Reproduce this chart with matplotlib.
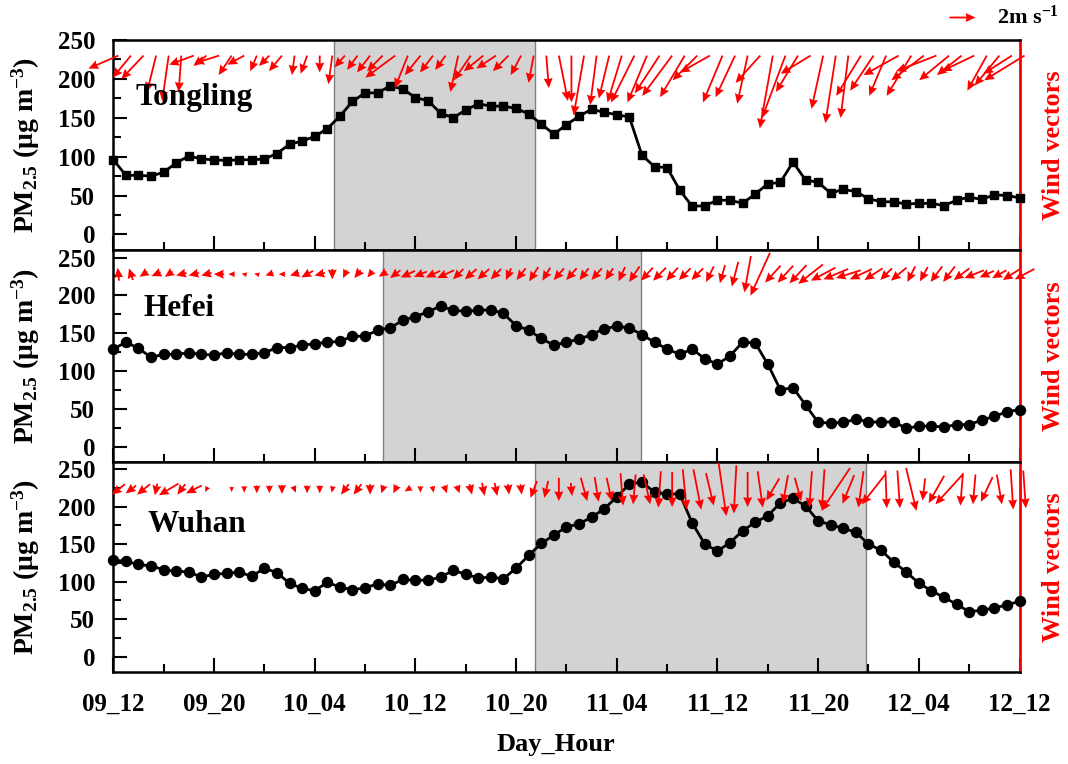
import numpy as np
import matplotlib.pyplot as plt
from matplotlib.ticker import MultipleLocator

plt.rcParams['font.family'] = 'Liberation Serif'
plt.rcParams['font.weight'] = 'bold'
plt.rcParams['axes.labelweight'] = 'bold'
plt.rcParams['mathtext.fontset'] = 'custom'
plt.rcParams['mathtext.rm'] = 'Liberation Serif:bold'
plt.rcParams['mathtext.bf'] = 'Liberation Serif:bold'
plt.rcParams['mathtext.it'] = 'Liberation Serif:italic:bold'

# hourly samples from 09_12 to 12_12
hours = np.arange(73)
xtick_labels = ['09_12', '09_20', '10_04', '10_12', '10_20',
                '11_04', '11_12', '11_20', '12_04', '12_12']
stations = ['Tongling', 'Hefei', 'Wuhan']

# PM2.5 (ug m-3)
pm_tongling = [96, 76, 76, 75, 80, 92, 101, 97, 96, 95, 96, 96, 97, 104, 116, 120, 126, 136,
               152, 171, 182, 182, 191, 187, 176, 172, 156, 150, 160, 168, 165, 165, 162, 155,
               142, 129, 141, 152, 161, 157, 154, 151, 102, 87, 86, 57, 36, 37, 44, 44, 40, 52,
               65, 67, 93, 70, 67, 53, 58, 55, 46, 42, 42, 39, 40, 40, 37, 44, 48, 45, 51, 50, 47]
pm_hefei = [129, 138, 130, 118, 122, 122, 124, 122, 121, 124, 122, 122, 124, 131, 131, 134, 136,
            138, 139, 146, 146, 154, 157, 167, 172, 178, 186, 180, 179, 180, 181, 176, 160, 154,
            143, 134, 138, 142, 148, 156, 159, 157, 148, 138, 129, 122, 129, 116, 109, 120, 138,
            137, 109, 75, 78, 55, 32, 31, 32, 36, 33, 32, 33, 24, 27, 27, 26, 29, 29, 35, 40, 46, 49]
pm_wuhan = [129, 127, 123, 121, 116, 114, 113, 106, 110, 111, 113, 107, 118, 112, 98, 91, 88, 99,
            93, 89, 92, 97, 95, 103, 102, 102, 106, 115, 110, 105, 106, 104, 118, 135, 151, 162,
            173, 177, 186, 197, 213, 230, 233, 219, 217, 217, 178, 150, 141, 152, 168, 179, 188,
            205, 211, 201, 181, 176, 171, 166, 150, 142, 126, 113, 98, 88, 79, 70, 60, 62, 65, 69, 74]

# wind components (m s-1)
u_tongling = [-2.3, -1.4, -1.7, -0.7, -0.5, -0.2, -1.9, -1.0, -1.9, -1.0,
              -1.3, -0.5, -0.8, -1.0, -0.2, -0.5, 0.0, -0.3, -0.8, -0.8,
              -1.0, -1.2, -2.3, -1.0, -1.2, -1.0, -0.8, -0.6, -1.3, -1.5,
              -1.5, -1.2, -0.8, -0.4, 0.2, 0.7, 0.0, -0.8, -0.5, -0.8,
              -1.1, -1.8, -1.5, -1.9, -2.3, -1.9, -1.9, -2.3, -1.5, -1.5,
              -0.8, -1.9, -1.0, -1.8, -1.7, -2.3, -0.9, -0.8, -0.6, -1.9,
              -1.8, -1.3, -2.7, -1.9, -2.5, -3.1, -2.3, -1.9, -2.5, -1.5,
              -1.9, -2.2, -3.1]
v_tongling = [-1.0, -1.7, -1.8, -2.8, -3.5, -2.8, -0.7, -0.8, -0.6, -1.5,
              -0.7, -1.2, -0.8, -1.2, -1.5, -1.4, -1.3, -2.2, -0.9, -1.1,
              -1.3, -1.2, -1.7, -2.5, -1.5, -1.3, -1.1, -2.8, -1.9, -1.2,
              -1.0, -1.2, -1.5, -2.1, -2.5, -3.5, -3.6, -4.6, -3.8, -3.3,
              -3.6, -3.6, -3.6, -2.9, -3.1, -3.2, -1.9, -1.3, -3.6, -3.2,
              -3.7, -2.1, -5.6, -4.8, -2.8, -1.4, -4.1, -5.2, -4.8, -3.1,
              -2.7, -3.1, -1.5, -3.1, -1.9, -1.2, -1.9, -1.5, -1.2, -2.7,
              -2.3, -1.4, -1.9]
u_hefei = [-0.1, -0.3, -0.6, -0.7, -0.6, -0.8, -0.8, -0.8, -0.8, -0.5,
           -0.4, -0.4, -0.6, -0.5, -0.7, -0.9, -0.8, 0.0, -0.3, -0.5,
           -0.4, -0.6, -0.8, -1.1, -1.0, -1.1, -1.3, -0.8, -0.9, -0.9,
           -0.8, -0.4, -0.7, -0.7, -0.6, -0.8, -0.8, -0.7, -0.8, -0.6,
           -0.5, -0.8, -0.9, -1.0, -0.9, -0.9, -0.9, -0.6, -0.4, -0.5,
           -0.5, -1.5, -1.2, -1.2, -1.3, -1.9, -1.9, -1.9, -1.9, -1.7,
           -1.4, -0.9, -1.2, -0.6, -0.6, -0.9, -0.9, -1.2, -1.5, -1.1,
           -1.1, -1.4, -1.5]
v_hefei = [1.0, 0.9, -0.4, -0.3, -0.4, -0.2, -0.2, -0.2, 0.0, 0.0,
           0.1, 0.1, -0.2, 0.0, -0.2, -0.5, -0.2, -0.8, -0.6, -0.6,
           -0.5, -0.4, -0.6, -0.5, -0.4, -0.5, -0.6, -0.8, -0.8, -0.8,
           -0.8, -0.9, -0.9, -1.1, -1.0, -0.9, -0.9, -0.9, -0.9, -0.9,
           -1.1, -1.2, -1.0, -1.0, -1.0, -0.9, -0.9, -1.2, -1.4, -1.9,
           -2.8, -3.3, -1.3, -1.3, -1.4, -1.5, -1.0, -0.8, -0.6, -0.8,
           -0.9, -0.9, -1.0, -1.2, -1.1, -1.2, -1.2, -0.9, -0.6, -0.5,
           -0.6, -0.9, -0.8]
u_wuhan = [-1.0, -0.8, -1.0, -0.2, -1.5, -0.6, -1.2, -0.2, np.nan, 0.0,
           0.0, 0.0, 0.0, 0.0, 0.2, 0.0, 0.0, -0.1, -0.6, -0.6,
           0.0, -0.2, -0.3, -0.5, 0.0, 0.1, 0.2, 0.2, 0.2, 0.2,
           0.2, 0.1, 0.1, -0.5, -0.3, 0.0, 0.1, 0.5, 0.3, 0.4,
           0.2, -0.2, 0.5, -0.2, 0.0, 0.3, 0.6, 0.6, 0.6, -0.2,
           0.0, 0.4, -1.0, -0.4, 0.5, -0.2, -0.2, -2.2, -0.9, -0.4,
           -1.8, 0.1, 0.2, 0.8, -0.2, -1.2, -2.1, -0.2, -0.2, -0.9,
           0.4, 0.2, 0.2]
v_wuhan = [-0.8, -0.6, -0.8, -0.9, -0.9, -0.8, -0.6, -0.4, np.nan, -0.4,
           -0.5, -0.6, -0.6, -0.7, -0.5, -0.6, -0.6, -0.5, -0.8, -0.8,
           -0.8, -0.6, -0.6, -0.3, -0.5, -0.5, -0.6, -0.6, -0.8, -1.0,
           -1.0, -0.8, -0.8, -1.3, -1.3, -1.8, -1.0, -1.8, -1.9, -1.8,
           -2.5, -2.3, -2.3, -2.8, -2.7, -3.1, -3.1, -2.5, -4.1, -3.7,
           -2.7, -2.8, -1.7, -2.2, -1.8, -2.8, -3.1, -3.3, -2.2, -2.8,
           -2.3, -2.9, -2.9, -3.3, -1.7, -2.1, -2.3, -2.5, -2.3, -1.9,
           -2.3, -3.1, -2.9]

# shaded pollution episodes (hours from 09_12)
episodes = [(17.5, 33.5), (21.4, 41.9), (33.5, 59.8)]

pm_all = [pm_tongling, pm_hefei, pm_wuhan]
u_all = [u_tongling, u_hefei, u_wuhan]
v_all = [v_tongling, v_hefei, v_wuhan]
markers = ['s', 'o', 'o']
msizes = [6.3, 7.2, 7.2]
ylims = [(-20, 250), (-20, 260), (-20, 260)]
wind_y = [230, 228, 223]
pivots = ['tail', 'middle', 'middle']
name_pos = [(0.024, 0.69), (0.033, 0.688), (0.038, 0.664)]

fig = plt.figure(figsize=(10.68, 7.64), dpi=100)
left, right = 0.1061, 0.9546
rows = [(0.6728, 0.9476), (0.3957, 0.6728), (0.1208, 0.3957)]

for i in range(3):
    b, t = rows[i]
    ax = fig.add_axes([left, b, right - left, t - b])
    ax.axvspan(episodes[i][0], episodes[i][1], facecolor='#d3d3d3',
               edgecolor='#808080', lw=1, zorder=0)
    ax.plot(hours, pm_all[i], color='k', lw=2, marker=markers[i],
            ms=msizes[i], zorder=3, clip_on=False)

    # wind arrows, 13 px per m s-1
    u = np.ma.masked_invalid(u_all[i])
    v = np.ma.masked_invalid(v_all[i])
    q = ax.quiver(hours + 0.4, np.full(73, wind_y[i]), u, v, color='red',
                  units='dots', width=1.8, scale=1 / 13, scale_units='dots',
                  headwidth=5, headlength=5.5, headaxislength=5,
                  pivot=pivots[i], zorder=4, clip_on=False)
    if i == 0:
        ax.quiverkey(q, 0.913, 0.978, 2, '', coordinates='figure',
                     labelpos='E', color='red')

    ax.set_xlim(0, 72)
    ax.set_ylim(*ylims[i])
    ax.xaxis.set_major_locator(MultipleLocator(8))
    ax.xaxis.set_minor_locator(MultipleLocator(4))
    ax.yaxis.set_major_locator(MultipleLocator(50))
    ax.yaxis.set_minor_locator(MultipleLocator(25))
    ax.tick_params(which='major', direction='in', length=10, width=1.5,
                   labelsize=18, pad=13)
    ax.tick_params(which='minor', direction='in', length=5.5, width=1.5)
    ax.tick_params(axis='x', which='major', pad=15)
    for s in ['left', 'top', 'bottom']:
        ax.spines[s].set_linewidth(1.8)
    ax.spines['right'].set_color('red')
    ax.spines['right'].set_linewidth(2)

    if i == 2:
        ax.set_xticks(np.arange(0, 73, 8))
        ax.set_xticklabels(xtick_labels)
    else:
        ax.tick_params(axis='x', labelbottom=False)

    ax.set_ylabel(r'PM$_{\mathrm{2.5}}$ (μg m$^{\mathrm{-3}}$)', fontsize=20,
                  fontweight='bold')
    ax.yaxis.set_label_coords(-0.079, 0.5)
    ax.text(1.037, 0.5, 'Wind vectors', rotation=90, color='red', fontsize=19,
            ha='center', va='center', transform=ax.transAxes)
    ax.text(name_pos[i][0], name_pos[i][1], stations[i], fontsize=22.5,
            va='baseline', transform=ax.transAxes, zorder=5)

fig.text(0.9335, 0.978, '2m s$^{\\mathrm{-1}}$', fontsize=16, va='center')
fig.text(0.521, 1 - 745 / 764, 'Day_Hour', fontsize=19, ha='center', va='center')

fig.savefig('out.png', dpi=100)
